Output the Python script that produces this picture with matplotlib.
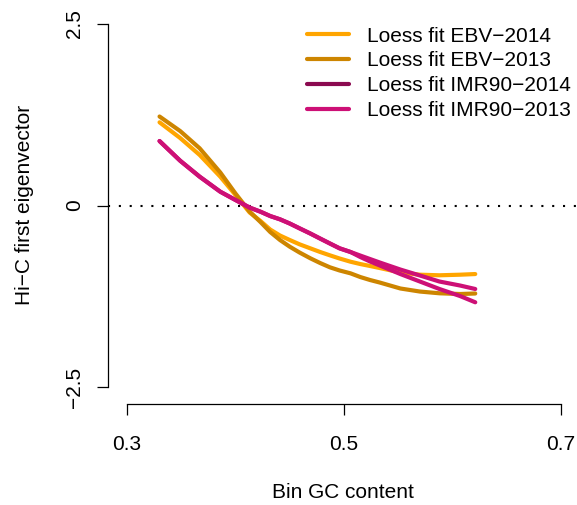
import matplotlib
matplotlib.use("Agg")
import matplotlib.pyplot as plt
from matplotlib.lines import Line2D

plt.rcParams["font.family"] = ["Liberation Sans", "DejaVu Sans"]
plt.rcParams["font.size"] = 15

# loess fits of the first eigenvector against bin GC content
gc = [0.330, 0.349, 0.367, 0.386, 0.400, 0.413, 0.423, 0.432, 0.441, 0.450,
      0.459, 0.469, 0.478, 0.487, 0.496, 0.506, 0.515, 0.524, 0.533, 0.552,
      0.570, 0.588, 0.607, 0.621]

ebv_2014 = [1.146, 0.930, 0.696, 0.397, 0.145, -0.096, -0.213, -0.331, -0.413, -0.475,
            -0.534, -0.590, -0.640, -0.686, -0.730, -0.774, -0.806, -0.833, -0.861, -0.923,
            -0.953, -0.961, -0.953, -0.944]
ebv_2013 = [1.226, 1.026, 0.788, 0.455, 0.165, -0.083, -0.227, -0.365, -0.475, -0.567,
            -0.647, -0.727, -0.792, -0.851, -0.895, -0.934, -0.985, -1.026, -1.061, -1.143,
            -1.185, -1.209, -1.219, -1.212]
imr90_2014 = [0.888, 0.617, 0.397, 0.190, 0.076, -0.028, -0.085, -0.145, -0.190, -0.248,
              -0.314, -0.386, -0.455, -0.523, -0.590, -0.640, -0.709, -0.771, -0.826, -0.944,
              -1.047, -1.150, -1.247, -1.333]
imr90_2013 = [0.888, 0.617, 0.397, 0.190, 0.076, -0.028, -0.085, -0.145, -0.190, -0.248,
              -0.314, -0.386, -0.455, -0.523, -0.590, -0.640, -0.689, -0.737, -0.785, -0.882,
              -0.964, -1.047, -1.102, -1.150]

labels = ["Loess fit EBV\u22122014", "Loess fit EBV\u22122013",
          "Loess fit IMR90\u22122014", "Loess fit IMR90\u22122013"]
legend_cols = ["#FFA500", "#CD8500", "#8B0A50", "#CD1076"]
line_cols = ["#FFA500", "#CD8500", "#CD1076", "#CD1076"]

fig = plt.figure(figsize=(5.77, 5.05), dpi=100)
ax = fig.add_axes([108 / 577, 1 - 404 / 505, 470 / 577, 394.5 / 505])
ax.set_xlim(0.2825, 0.7157)
ax.set_ylim(-2.734, 2.70)

ax.axhline(0, color="black", lw=1.5, linestyle=(0, (1, 4.2)), zorder=1)

for ys, c in zip([ebv_2014, ebv_2013, imr90_2014, imr90_2013], line_cols):
    ax.plot(gc, ys, color=c, lw=3, solid_capstyle="round", solid_joinstyle="round", zorder=2)

for side in ["top", "right"]:
    ax.spines[side].set_visible(False)
ax.spines["left"].set_bounds(-2.5, 2.5)
ax.spines["bottom"].set_bounds(0.3, 0.7)
ax.spines["left"].set_linewidth(0.9)
ax.spines["bottom"].set_linewidth(0.9)

ax.set_xticks([0.3, 0.5, 0.7])
ax.set_xticklabels(["0.3", "0.5", "0.7"])
ax.set_yticks([-2.5, 0, 2.5])
ax.set_yticklabels(["\u22122.5", "0", "2.5"], rotation=90, va="center")
ax.tick_params(axis="both", length=8, width=0.9, direction="out")
ax.tick_params(axis="x", pad=14)
ax.tick_params(axis="y", pad=9)

fig.text(343 / 577, 1 - 492 / 505, "Bin GC content", ha="center", va="center")
fig.text(25 / 577, 1 - 205 / 505, "Hi\u2212C first eigenvector", rotation=90,
         ha="center", va="center")

handles = [Line2D([], [], color=c, lw=3, solid_capstyle="round") for c in legend_cols]
ax.legend(handles, labels, loc="upper left", bbox_to_anchor=(307 / 577, 1 - 26.5 / 505),
          bbox_transform=fig.transFigure, frameon=False, borderpad=0, borderaxespad=0,
          handlelength=2.0, handletextpad=0.9, labelspacing=0.28)

fig.savefig("out.png", dpi=100)
